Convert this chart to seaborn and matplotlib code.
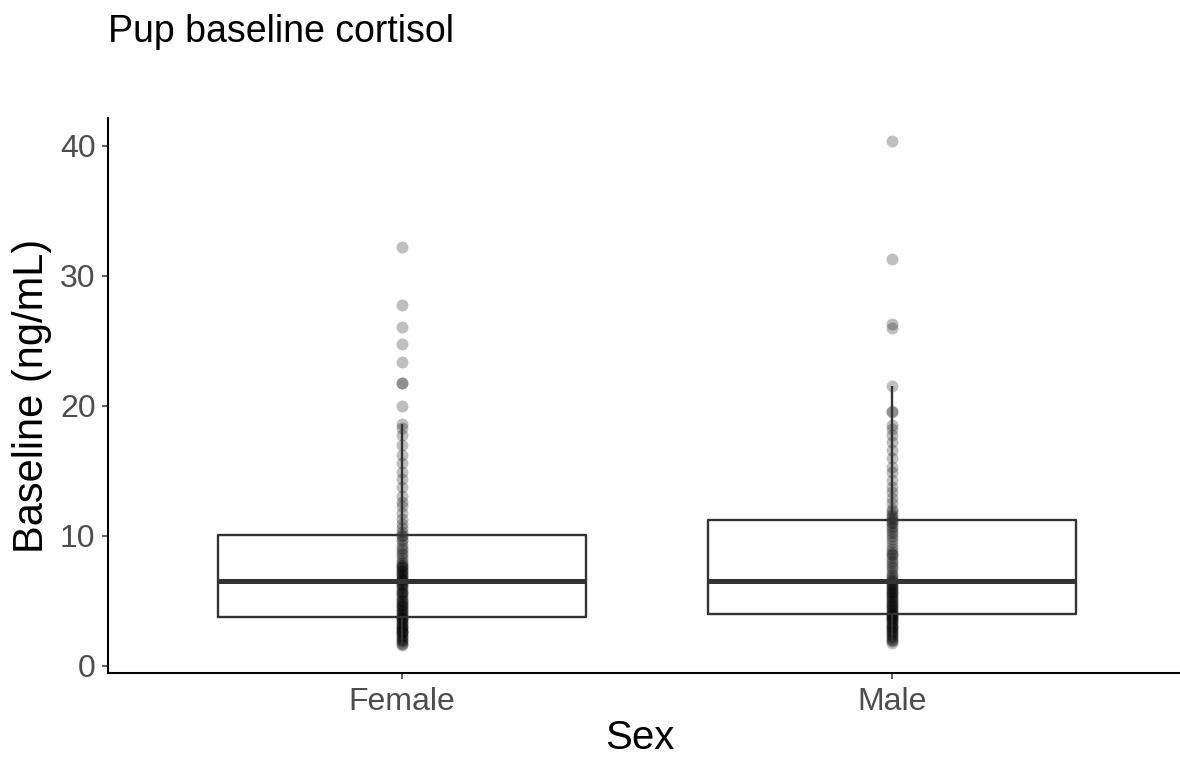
import numpy as np
import pandas as pd
import matplotlib
matplotlib.use("Agg")
import matplotlib.pyplot as plt
import seaborn as sns

# Baseline cortisol (ng/mL) per pup, grouped by sex
female_cortisol = [
    1.6, 1.7, 1.8, 1.9, 2.0, 2.1, 2.2, 2.3, 2.4, 2.5, 2.6, 2.6, 2.7, 2.8, 2.9,
    3.0, 3.0, 3.1, 3.2, 3.3, 3.4, 3.5, 3.6, 3.7, 3.7,
    3.8,
    3.9, 4.0, 4.1, 4.2, 4.3, 4.4, 4.5, 4.6, 4.7, 4.8, 4.9, 5.0, 5.1, 5.2, 5.4,
    5.5, 5.6, 5.7, 5.8, 6.0, 6.1, 6.2, 6.3, 6.4,
    6.5,
    6.6, 6.7, 6.8, 6.9, 7.0, 7.1, 7.2, 7.3, 7.4, 7.5, 7.6, 7.7, 7.8, 7.9, 8.1,
    8.3, 8.5, 8.7, 8.9, 9.1, 9.3, 9.6, 9.8, 10.0,
    10.1,
    10.3, 10.6, 10.9, 11.3, 11.8, 12.3, 12.6, 13.1, 13.8, 14.4, 14.9, 15.6,
    16.2, 17.0, 17.8, 18.3, 18.6, 20.0, 21.8, 21.8, 23.4, 24.8, 26.1, 27.8, 32.2,
]
male_cortisol = [
    1.8, 1.9, 2.0, 2.1, 2.2, 2.3, 2.4, 2.5, 2.6, 2.7, 2.8, 2.9, 3.0, 3.0, 3.1,
    3.2, 3.3, 3.4, 3.5, 3.6, 3.7, 3.7, 3.8, 3.9, 3.9,
    4.0,
    4.1, 4.2, 4.3, 4.4, 4.5, 4.6, 4.7, 4.8, 4.9, 5.0, 5.1, 5.2, 5.3, 5.4, 5.5,
    5.6, 5.7, 5.8, 5.9, 6.0, 6.1, 6.2, 6.3, 6.4,
    6.5,
    6.6, 6.8, 6.9, 7.1, 7.3, 7.5, 7.7, 7.9, 8.1, 8.3, 8.5, 8.6, 8.8, 9.0, 9.2,
    9.5, 9.8, 10.0, 10.2, 10.4, 10.6, 10.8, 11.0, 11.1,
    11.2,
    11.4, 11.5, 11.7, 11.9, 12.1, 12.5, 12.9, 13.4, 13.8, 14.3, 14.9, 15.3,
    16.0, 16.6, 17.2, 17.8, 18.2, 18.5, 19.5, 19.6, 21.5, 26.0, 26.3, 31.3, 40.4,
]
sex_levels = ["Female", "Male"]
y_ticks = [0, 10, 20, 30, 40]

df = pd.DataFrame({
    "Sex": ["Female"] * len(female_cortisol) + ["Male"] * len(male_cortisol),
    "Baseline": female_cortisol + male_cortisol,
})

sns.set_style("white")
plt.rcParams["font.family"] = ["Liberation Sans", "DejaVu Sans"]

fig = plt.figure(figsize=(11.8, 7.58), dpi=100)
ax = fig.add_axes([108 / 1180, 85 / 758, 1078 / 1180, 555 / 758])

# individual pups, semi-transparent so stacked values darken
sns.stripplot(data=df, x="Sex", y="Baseline", order=sex_levels, jitter=False,
              color="black", alpha=0.25, size=8.6, linewidth=0, ax=ax, zorder=2)

# open boxes on top of the points
sns.boxplot(data=df, x="Sex", y="Baseline", order=sex_levels, fill=False,
            color="#333333", width=0.75, linewidth=1.7, whis=1.5,
            showcaps=False, showfliers=False,
            medianprops={"linewidth": 3.6, "color": "#333333"},
            ax=ax, zorder=3)

ax.set_xlim(-0.6, 1.6)
ax.set_ylim(-0.54, 42.15)
ax.set_yticks(y_ticks)

for side in ("top", "right"):
    ax.spines[side].set_visible(False)
for side in ("left", "bottom"):
    ax.spines[side].set_color("black")
    ax.spines[side].set_linewidth(1.5)

ax.tick_params(axis="both", which="major", length=4, width=1.1,
               color="#333333", labelcolor="#4D4D4D", labelsize=23,
               left=True, bottom=True)
ax.tick_params(axis="x", pad=6)
ax.tick_params(axis="y", pad=5)

ax.set_xlabel("")
ax.set_ylabel("Baseline (ng/mL)", fontsize=30, color="black", labelpad=6)

# axis and plot titles placed in figure coordinates
fig.text(640 / 1180, 1 - 749 / 758, "Sex", fontsize=29, color="black",
         ha="center", va="baseline")
fig.text(108 / 1180, 1 - 42 / 758, "Pup baseline cortisol", fontsize=27,
         color="black", ha="left", va="baseline")

fig.savefig("out.png", dpi=100)
